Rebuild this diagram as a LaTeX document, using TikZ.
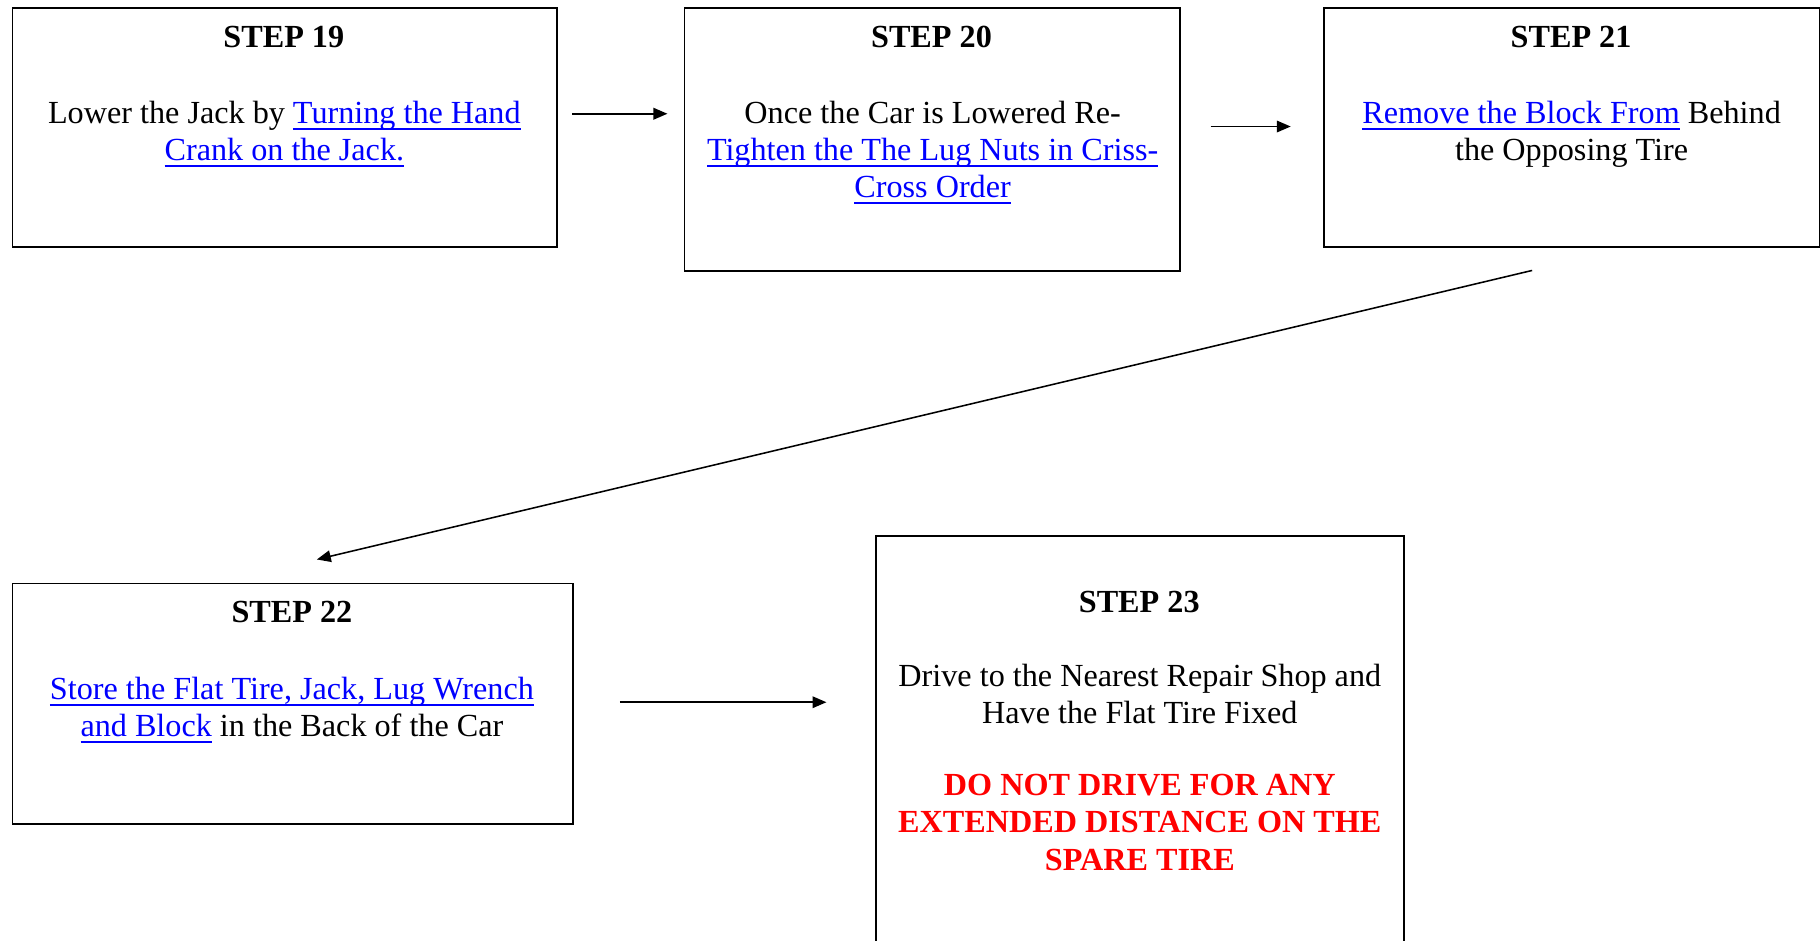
\documentclass[tikz,border=0pt]{standalone}
\usepackage{fontspec}
\setmainfont{Liberation Serif}
\usepackage{tikz}
\usetikzlibrary{arrows.meta}
\definecolor{linkblue}{RGB}{0,0,255}
\definecolor{warnred}{RGB}{255,0,0}
\newcommand{\lnk}[1]{\textcolor{linkblue}{\setbox0\hbox{#1}\rlap{\rule[-4pt]{\wd0}{1.1pt}}\box0}}
\tikzset{
  stepbox/.style={draw, line width=1pt, inner sep=0pt, anchor=north west},
  steptxt/.style={anchor=north, inner sep=0pt, align=center, font=\fontsize{20.8}{24}\selectfont},
  flow/.style={line width=1pt, -{Triangle[length=9pt,width=7.5pt]}}
}

\begin{document}
\begin{tikzpicture}[x=0.75pt,y=0.75pt,yscale=-1,xscale=1]
    \useasboundingbox (0,0) rectangle (1568,810);

    %Shape: Rectangle [id:s19]
    \node[stepbox, minimum width=469*0.75pt, minimum height=206*0.75pt] (s19) at (10,6) {};
    %Shape: Rectangle [id:s20]
    \node[stepbox, minimum width=427*0.75pt, minimum height=227*0.75pt] (s20) at (589,6) {};
    %Shape: Rectangle [id:s21]
    \node[stepbox, minimum width=427*0.75pt, minimum height=206*0.75pt] (s21) at (1140,6) {};
    %Shape: Rectangle [id:s22]
    \node[stepbox, minimum width=483*0.75pt, minimum height=207*0.75pt] (s22) at (10,502) {};
    %Shape: Rectangle [id:s23]
    \node[stepbox, minimum width=455*0.75pt, minimum height=390*0.75pt] (s23) at (754,461) {};

    % Text Node
    \node[steptxt] (t19) at (244.5,22) {\textbf{STEP 19}};
    \node[steptxt] (b19) at (245,87) {Lower the Jack by \lnk{Turning the Hand}\\\lnk{Crank on the Jack.}};
    % Text Node
    \node[steptxt] (t20) at (802.5,22) {\textbf{STEP 20}};
    \node[steptxt] (b20) at (803.5,87) {Once the Car is Lowered Re-\\\lnk{Tighten the The Lug Nuts in Criss-}\\\lnk{Cross Order}};
    % Text Node
    \node[steptxt] (t21) at (1353.5,22) {\textbf{STEP 21}};
    \node[steptxt] (b21) at (1354,87) {\lnk{Remove the Block From} Behind\\the Opposing Tire};
    % Text Node
    \node[steptxt] (t22) at (251.5,518) {\textbf{STEP 22}};
    \node[steptxt] (b22) at (251.5,583) {\lnk{Store the Flat Tire, Jack, Lug Wrench}\\\lnk{and Block} in the Back of the Car};
    % Text Node
    \node[steptxt] (t23) at (981.5,509) {\textbf{STEP 23}};
    \node[steptxt] (b23) at (982,572) {Drive to the Nearest Repair Shop and\\Have the Flat Tire Fixed};
    \node[steptxt, text=warnred, font=\fontsize{20.8}{24}\selectfont\bfseries] (w23) at (982,667) {DO NOT DRIVE FOR ANY\\EXTENDED DISTANCE ON THE\\SPARE TIRE};

    %Straight Lines: arrow ends
    \coordinate (a19) at (493,98);   \coordinate (a20) at (575,98);
    \coordinate (b20e) at (1043,109); \coordinate (b21e) at (1112,109);
    \coordinate (c21) at (1320,233); \coordinate (c22) at (273,482);
    \coordinate (d22) at (534,605);  \coordinate (d23) at (712,605);

    \draw[flow] (a19) -- (a20);
    \draw[flow] (b20e) -- (b21e);
    \draw[flow] (c21) -- (c22);
    \draw[flow] (d22) -- (d23);

\end{tikzpicture}
\end{document}
